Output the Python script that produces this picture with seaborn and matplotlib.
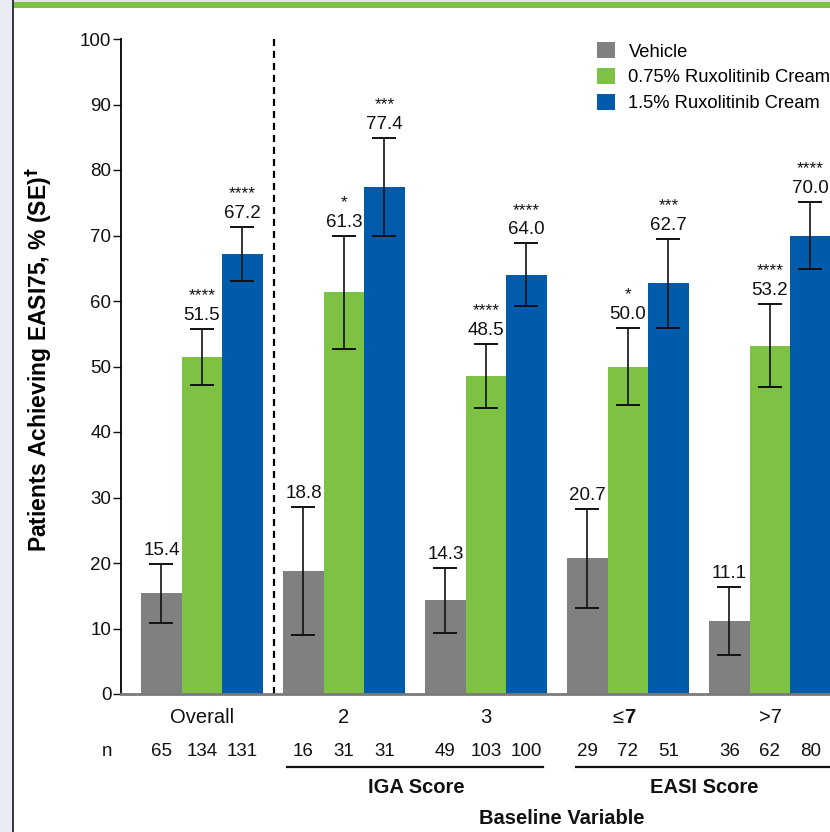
import matplotlib
matplotlib.use("Agg")
import matplotlib.pyplot as plt
from matplotlib.patches import Patch, Rectangle
from matplotlib.lines import Line2D
import seaborn as sns
import pandas as pd

# ---- data -------------------------------------------------------------
groups = ["Overall", "2", "3", "≤7", ">7"]
treatments = ["Vehicle", "0.75% Ruxolitinib Cream", "1.5% Ruxolitinib Cream"]
vehicle = [15.4, 18.8, 14.3, 20.7, 11.1]
rux075 = [51.5, 61.3, 48.5, 50.0, 53.2]
rux15 = [67.2, 77.4, 64.0, 62.7, 70.0]
se_vehicle = [4.5, 9.8, 5.0, 7.5, 5.2]
se_rux075 = [4.3, 8.7, 4.9, 5.9, 6.3]
se_rux15 = [4.1, 7.5, 4.8, 6.8, 5.1]
stars_vehicle = ["", "", "", "", ""]
stars_rux075 = ["****", "*", "****", "*", "****"]
stars_rux15 = ["****", "***", "****", "***", "****"]
n_vehicle = [65, 16, 49, 29, 36]
n_rux075 = [134, 31, 103, 72, 62]
n_rux15 = [131, 31, 100, 51, 80]
colors = ["#808080", "#7dc242", "#005baa"]

values = [vehicle, rux075, rux15]
errors = [se_vehicle, se_rux075, se_rux15]
stars = [stars_vehicle, stars_rux075, stars_rux15]
counts = [n_vehicle, n_rux075, n_rux15]

df = pd.DataFrame({
    "group": [g for _ in treatments for g in groups],
    "treatment": [t for t in treatments for _ in groups],
    "value": vehicle + rux075 + rux15,
})

INK = "#111111"

# ---- figure -----------------------------------------------------------
W, H = 830, 832
fig = plt.figure(figsize=(W / 100, H / 100), dpi=100)
fig.patch.set_facecolor("white")
plt.rcParams["font.family"] = ["Liberation Sans", "DejaVu Sans"]

# page decoration: side strip, rule and top band
fig.add_artist(Rectangle((0, 0), 12 / W, 1, transform=fig.transFigure,
                         facecolor="#e9ebf5", edgecolor="none", zorder=0))
fig.add_artist(Rectangle((12 / W, 0), 2 / W, 1, transform=fig.transFigure,
                         facecolor="#3a3a40", edgecolor="none", zorder=0))
fig.add_artist(Rectangle((14 / W, 1 - 8 / H), 1, 6 / H, transform=fig.transFigure,
                         facecolor="#7dc242", edgecolor="none", zorder=0))
fig.add_artist(Rectangle((14 / W, 1 - 2 / H), 1, 2 / H, transform=fig.transFigure,
                         facecolor="#e4e4e4", edgecolor="none", zorder=0))

ax_left, ax_right, ax_top, ax_bot = 121, 850, 39, 694
ax = fig.add_axes([ax_left / W, 1 - ax_bot / H, (ax_right - ax_left) / W,
                   (ax_bot - ax_top) / H])
ax.set_facecolor("none")

sns.barplot(data=df, x="group", y="value", hue="treatment", order=groups,
            hue_order=treatments, palette=colors, width=0.855, gap=0,
            errorbar=None, saturation=1, legend=False, ax=ax, zorder=2)
bar_sets = list(ax.containers)

x0 = -0.57
ux = (ax_right - ax_left) / 142.0
ax.set_xlim(x0, x0 + ux)
ax.set_ylim(0, 100)
ax.set_yticks(range(0, 101, 10))
ax.tick_params(axis="y", length=6, width=1, pad=1, labelsize=13.5,
               colors=INK)
ax.tick_params(axis="x", length=0, labelbottom=False)
ax.set_xlabel("")
ax.set_ylabel("Patients Achieving EASI75, % (SE)$^{\\bf†}$", fontsize=16.5,
              fontweight="bold")
ax.yaxis.set_label_coords(-0.092, 0.51)
for s in ["top", "right"]:
    ax.spines[s].set_visible(False)
ax.spines["left"].set_color("black")
ax.spines["left"].set_linewidth(1.3)
ax.spines["bottom"].set_color("#7a7a7a")
ax.spines["bottom"].set_linewidth(2)

# separator between overall and subgroups
ax.axvline(0.507, color="black", lw=1.6, ls=(0, (3.2, 2.2)), zorder=1)

# error bars, values and significance marks
xt = ax.get_xaxis_transform()
for k, cont in enumerate(bar_sets):
    for i, bar in enumerate(cont.patches):
        xc = bar.get_x() + bar.get_width() / 2
        v = values[k][i]
        e = errors[k][i]
        ax.errorbar(xc, v, yerr=e, fmt="none", ecolor=INK,
                    elinewidth=1.2, capsize=8.5, capthick=1.4, zorder=3)
        ax.annotate(f"{v:.1f}", (xc, v + e), xytext=(0, 3.5),
                    textcoords="offset points", ha="center", va="bottom",
                    fontsize=13.5, color=INK)
        if stars[k][i]:
            ax.annotate(stars[k][i], (xc, v + e), xytext=(0, 18.5),
                        textcoords="offset points", ha="center",
                        va="bottom", fontsize=12.5, color=INK)
        ax.text(xc, -0.0885, str(counts[k][i]), transform=xt, ha="center",
                va="center", fontsize=13.5, color=INK, clip_on=False)

# group labels
ty = -0.0366
for i, g in enumerate(groups):
    if g == "≤7":
        ax.text(i - 0.03, ty, "≤", transform=xt, ha="right", va="center",
                fontsize=14.5, color=INK)
        ax.text(i - 0.03, ty, "7", transform=xt, ha="left", va="center",
                fontsize=14.5, fontweight="bold", color=INK)
    else:
        ax.text(i, ty, g, transform=xt, ha="center", va="center",
                fontsize=14.5, color=INK)

ax.text(x0 - 14 / 142, -0.0885, "n", transform=xt, ha="center", va="center",
        fontsize=13.5, color=INK)

# grouping brackets
for xa, xb, label, xm in [(0.599, 2.402, "IGA Score", 1.51),
                          (2.634, 4.7, "EASI Score", 3.54)]:
    ax.add_line(Line2D([xa, xb], [-0.111, -0.111], transform=xt,
                       color=INK, lw=1.6, clip_on=False))
    ax.text(xm, -0.142, label, transform=xt, ha="center", va="center",
            fontsize=14.5, fontweight="bold", color=INK)

ax.text(2.536, -0.19, "Baseline Variable", transform=xt, ha="center",
        va="center", fontsize=14.5, fontweight="bold", color=INK)

handles = [Patch(facecolor=c, edgecolor="none") for c in colors]
fig.legend(handles, treatments, loc="upper left",
           bbox_to_anchor=(590 / W, 1 - 35 / H), frameon=False,
           fontsize=13.2, handlelength=0.95, handleheight=0.95,
           handletextpad=0.75, labelspacing=0.42, borderaxespad=0)

fig.savefig("out.png", dpi=100)
